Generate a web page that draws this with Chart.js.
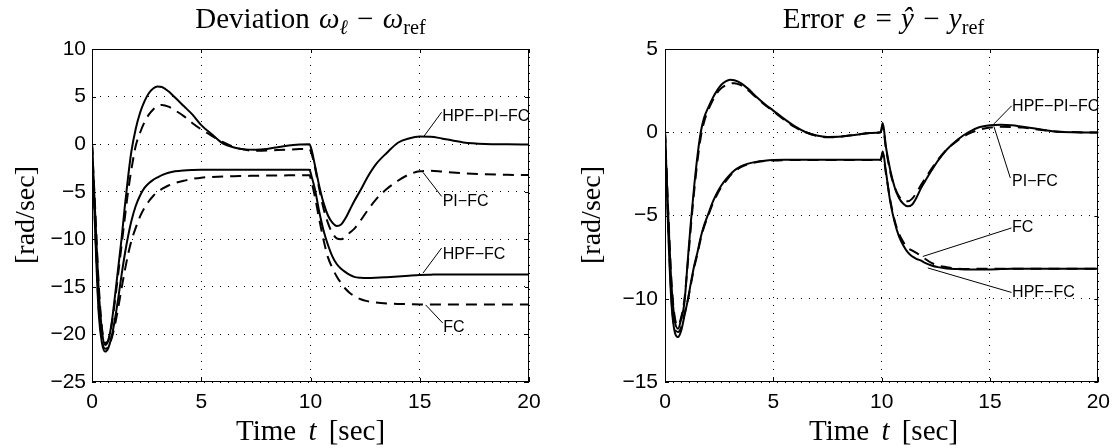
<!DOCTYPE html>
<html>
<head>
<meta charset="utf-8">
<script src="https://cdn.jsdelivr.net/npm/chart.js@4.4.1/dist/chart.umd.min.js"></script>
<style>
  body { margin: 0; background: #fff; }
  #wrap { position: relative; width: 1118px; height: 448px; overflow: hidden; background: #fff; }
  canvas { position: absolute; top: 0; }
  .serif { position: absolute; font-family: "Liberation Serif", "Times New Roman", serif; font-size: 29px; line-height: 28px; color: #000; white-space: nowrap; text-align: center; }
  .serif sub { font-size: 0.7em; line-height: 0; vertical-align: -0.3em; }
  .ttl { word-spacing: 2px; }
  .xl { word-spacing: 5px; }
  .yl { width: 200px; height: 28px; font-size: 28px; transform: rotate(-90deg); }
</style>
</head>
<body>
<div id="wrap">
  <canvas id="devChart" width="560" height="448" style="left:0"></canvas>
  <canvas id="errChart" width="558" height="448" style="left:560px"></canvas>

  <div class="serif ttl" style="left:92px; width:437px; top:4px">Deviation <i>ω</i><sub><i>ℓ</i></sub> − <i>ω</i><sub>ref</sub></div>
  <div class="serif ttl" style="left:665px; width:437px; top:4px">Error <i>e</i> = <i>ŷ</i> − <i>y</i><sub>ref</sub></div>
  <div class="serif xl" style="left:92px; width:437px; top:416px">Time <i>t</i> [sec]</div>
  <div class="serif xl" style="left:665px; width:437px; top:416px">Time <i>t</i> [sec]</div>
  <div class="serif yl" style="left:-75px; top:201px">[rad/sec]</div>
  <div class="serif yl" style="left:491px; top:201px">[rad/sec]</div>
</div>

<script>
// time samples [sec], shared by all curves
var time = [0, 0.15, 0.3, 0.45, 0.6, 0.75, 0.9, 1.05, 1.2, 1.35,
  1.5, 1.65, 1.8, 2.0, 2.2, 2.4, 2.6, 2.8, 3.0, 3.2,
  3.5, 3.8, 4.2, 4.6, 5.0, 5.5, 6.0, 6.5, 7.0, 7.5,
  8.0, 8.5, 9.0, 9.5, 9.95, 10.05, 10.2, 10.4, 10.6, 10.8,
  11.0, 11.2, 11.4, 11.6, 11.8, 12.0, 12.3, 12.6, 13.0, 13.5,
  14.0, 14.5, 15.0, 15.5, 16.0, 16.5, 17.0, 18.0, 19.0, 20.0];

// left plot: deviation w_l - w_ref
var devHpfPiFc = [0, -7.5, -15, -19.5, -21.1, -20.6, -18.8, -16.0, -13.0, -10.0,
  -6.6, -3.5, -0.8, 1.6, 3.3, 4.5, 5.35, 5.85, 6.05, 6.0,
  5.55, 4.9, 4.0, 3.1, 2.0, 1.0, 0.05, -0.35, -0.55, -0.58,
  -0.5, -0.32, -0.15, -0.05, 0, -0.6, -2.2, -4.4, -6.2, -7.5,
  -8.25, -8.6, -8.45, -7.8, -6.9, -6.0, -4.8, -3.5, -2.1, -0.9,
  0.15, 0.6, 0.8, 0.78, 0.6, 0.38, 0.18, 0.02, -0.02, -0.05];
var devPiFc = [0, -7, -14.5, -19.2, -20.9, -20.6, -19.0, -16.5, -13.6, -10.7,
  -7.8, -5.0, -2.7, -0.2, 1.2, 2.3, 3.1, 3.65, 4.0, 4.12,
  3.95, 3.55, 2.95, 2.2, 1.55, 0.85, 0.2, -0.3, -0.6, -0.7,
  -0.68, -0.62, -0.57, -0.52, -0.5, -1.0, -2.4, -4.7, -6.8, -8.3,
  -9.35, -9.9, -10.0, -9.75, -9.3, -8.9, -8.0, -7.0, -5.8, -4.7,
  -3.85, -3.2, -2.85, -2.8, -2.88, -2.98, -3.06, -3.17, -3.22, -3.25];
var devHpfFc = [0, -9.5, -17.5, -20.8, -21.8, -21.4, -20.2, -18.4, -16.2, -13.8,
  -11.6, -9.7, -8.1, -6.5, -5.4, -4.6, -4.1, -3.75, -3.5, -3.25,
  -3.0, -2.85, -2.76, -2.72, -2.7, -2.69, -2.68, -2.68, -2.68, -2.68,
  -2.69, -2.7, -2.7, -2.7, -2.7, -3.4, -4.7, -7.1, -9.1, -10.6,
  -11.8, -12.6, -13.1, -13.45, -13.75, -13.95, -14.05, -14.08, -14.05, -13.98,
  -13.9, -13.82, -13.75, -13.72, -13.7, -13.7, -13.7, -13.7, -13.7, -13.7];
var devFc = [0, -9, -17, -20.5, -21.5, -21.3, -20.4, -19.0, -17.2, -15.2,
  -13.3, -11.6, -10.2, -8.8, -7.6, -6.7, -6.0, -5.45, -5.0, -4.7,
  -4.35, -4.08, -3.85, -3.65, -3.52, -3.45, -3.4, -3.37, -3.35, -3.32,
  -3.3, -3.3, -3.28, -3.27, -3.27, -4.0, -5.5, -7.9, -10.1, -11.9,
  -13.0, -13.9, -14.6, -15.2, -15.65, -15.95, -16.3, -16.5, -16.65, -16.75,
  -16.8, -16.82, -16.85, -16.85, -16.85, -16.85, -16.85, -16.85, -16.85, -16.85];

// right plot: error e = yhat - y_ref
var errHpfPiFc = [0, -5, -9.2, -11.3, -11.8, -11.2, -10.2, -7.7, -5.3, -3.2,
  -1.4, 0.0, 0.85, 1.5, 2.05, 2.5, 2.85, 3.05, 3.15, 3.12,
  2.95, 2.65, 2.15, 1.7, 1.3, 0.8, 0.35, 0.0, -0.2, -0.28,
  -0.27, -0.2, -0.12, -0.05, 0.0, 0.55, -0.9, -2.3, -3.3, -3.95,
  -4.3, -4.45, -4.35, -3.95, -3.4, -2.95, -2.3, -1.7, -1.05, -0.45,
  0.0, 0.3, 0.42, 0.45, 0.42, 0.33, 0.24, 0.05, 0.0, -0.02];
var errPiFc = [0, -4.8, -9.0, -11.1, -11.6, -11.1, -10.0, -7.9, -5.6, -3.5,
  -1.7, -0.3, 0.6, 1.35, 1.9, 2.35, 2.65, 2.82, 2.92, 2.95,
  2.83, 2.55, 2.1, 1.65, 1.25, 0.75, 0.3, 0.0, -0.22, -0.3,
  -0.28, -0.2, -0.12, -0.05, 0.0, 0.3, -1.0, -2.4, -3.3, -3.85,
  -4.1, -4.15, -4.0, -3.65, -3.2, -2.8, -2.2, -1.65, -1.05, -0.5,
  -0.1, 0.15, 0.28, 0.33, 0.32, 0.28, 0.2, 0.05, 0.0, -0.02];
var errHpfFc = [0, -6, -10.3, -12.0, -12.3, -11.9, -11.0, -10.1, -9.0, -8.0,
  -7.2, -6.3, -5.6, -4.9, -4.2, -3.65, -3.2, -2.85, -2.55, -2.3,
  -2.05, -1.9, -1.78, -1.71, -1.67, -1.65, -1.65, -1.65, -1.65, -1.65,
  -1.65, -1.65, -1.65, -1.65, -1.65, -1.15, -2.4, -4.2, -5.4, -6.25,
  -6.8, -7.2, -7.45, -7.6, -7.7, -7.85, -8.0, -8.1, -8.18, -8.22,
  -8.25, -8.25, -8.24, -8.22, -8.2, -8.2, -8.2, -8.2, -8.2, -8.2];
var errFc = [0, -5.6, -10.0, -11.8, -12.0, -11.7, -10.9, -10.1, -9.1, -8.1,
  -7.3, -6.4, -5.7, -5.0, -4.3, -3.75, -3.3, -2.95, -2.62, -2.37,
  -2.1, -1.93, -1.8, -1.73, -1.7, -1.68, -1.67, -1.67, -1.67, -1.67,
  -1.67, -1.67, -1.67, -1.67, -1.67, -1.3, -2.5, -4.1, -5.3, -6.1,
  -6.6, -6.95, -7.1, -7.25, -7.4, -7.6, -7.85, -8.0, -8.1, -8.2,
  -8.22, -8.2, -8.2, -8.2, -8.2, -8.2, -8.2, -8.2, -8.2, -8.2];

// axis ticks
var timeTicks = [0, 5, 10, 15, 20];
var devTicks = [-25, -20, -15, -10, -5, 0, 5, 10];
var errTicks = [-15, -10, -5, 0, 5];

// curve labels: text, point on curve, end of leader, text anchor (data units)
var devLabels = [
  {text: 'HPF\u2212PI\u2212FC', from: [15.2, 0.85], to: [16.0, 3.35], at: [16.03, 2.87]},
  {text: 'PI\u2212FC', from: [15.15, -2.97], to: [16.0, -5.49], at: [16.05, -6.08]},
  {text: 'HPF\u2212FC', from: [15.15, -13.55], to: [16.0, -10.92], at: [16.05, -11.62]},
  {text: 'FC', from: [15.27, -16.9], to: [16.05, -18.8], at: [16.08, -19.33]}
];
var errLabels = [
  {text: 'HPF\u2212PI\u2212FC', from: [15.18, 0.5], to: [16.0, 1.59], at: [16.02, 1.55]},
  {text: 'PI\u2212FC', from: [15.18, 0.35], to: [15.94, -2.75], at: [16.02, -2.95]},
  {text: 'FC', from: [11.9, -7.46], to: [15.99, -5.75], at: [16.02, -5.75]},
  {text: 'HPF\u2212FC', from: [12.13, -8.15], to: [15.99, -9.62], at: [16.02, -9.62]}
];

function pts(vals) {
  return vals.map(function (v, i) { return {x: time[i], y: v}; });
}

function line(label, vals, dashed) {
  return {
    label: label,
    data: pts(vals),
    borderColor: '#000',
    borderWidth: 2,
    borderDash: dashed ? [11, 7] : [],
    pointRadius: 0,
    fill: false,
    cubicInterpolationMode: 'monotone'
  };
}

// box round the plot, little inward ticks, and the curve labels with leaders
var framePlugin = {
  id: 'frame',
  afterDatasetsDraw: function (chart, args, opts) {
    var ctx = chart.ctx, a = chart.chartArea;
    var xs = chart.scales.x, ys = chart.scales.y;
    ctx.save();
    ctx.strokeStyle = '#000';
    ctx.lineWidth = 1;
    ctx.strokeRect(Math.round(a.left) + 0.5, Math.round(a.top) + 0.5,
      Math.round(a.right - a.left) - 1, Math.round(a.bottom - a.top) - 1);
    ctx.beginPath();
    timeTicks.forEach(function (t) {
      var px = Math.round(xs.getPixelForValue(t)) + 0.5;
      ctx.moveTo(px, a.bottom); ctx.lineTo(px, a.bottom - 4);
      ctx.moveTo(px, a.top); ctx.lineTo(px, a.top + 4);
    });
    opts.yTicks.forEach(function (v) {
      var py = Math.round(ys.getPixelForValue(v)) + 0.5;
      ctx.moveTo(a.left, py); ctx.lineTo(a.left + 4, py);
      ctx.moveTo(a.right, py); ctx.lineTo(a.right - 4, py);
    });
    ctx.stroke();

    ctx.lineWidth = 1;
    ctx.font = '16px "Liberation Sans", Arial, sans-serif';
    ctx.fillStyle = '#000';
    ctx.textAlign = 'left';
    ctx.textBaseline = 'middle';
    opts.labels.forEach(function (l) {
      ctx.beginPath();
      ctx.moveTo(xs.getPixelForValue(l.from[0]), ys.getPixelForValue(l.from[1]));
      ctx.lineTo(xs.getPixelForValue(l.to[0]), ys.getPixelForValue(l.to[1]));
      ctx.stroke();
      ctx.fillText(l.text, xs.getPixelForValue(l.at[0]), ys.getPixelForValue(l.at[1]));
    });
    ctx.restore();
  }
};

function makeChart(id, sets, yTicks, labels, yWidth, padRight, tickPad) {
  var tickFont = {family: '"Liberation Sans", Arial, sans-serif', size: 21};
  var fmt = function (v) { return String(v).replace('-', '\u2212'); };
  return new Chart(document.getElementById(id), {
    type: 'line',
    data: {datasets: sets},
    options: {
      responsive: false,
      animation: false,
      devicePixelRatio: 1,
      layout: {padding: {left: 0, right: padRight, top: 49, bottom: 0}},
      plugins: {
        legend: {display: false},
        tooltip: {enabled: false},
        frame: {labels: labels, yTicks: yTicks}
      },
      scales: {
        x: {
          type: 'linear',
          min: timeTicks[0], max: timeTicks[timeTicks.length - 1],
          afterBuildTicks: function (s) { s.ticks = timeTicks.map(function (v) { return {value: v}; }); },
          afterFit: function (s) { s.height = 66; },
          ticks: {font: tickFont, color: '#000', padding: 8, maxRotation: 0, autoSkip: false, callback: fmt},
          grid: {color: '#000', lineWidth: 1, drawTicks: false},
          border: {display: false, dash: [1, 7]}
        },
        y: {
          type: 'linear',
          min: yTicks[0], max: yTicks[yTicks.length - 1],
          afterBuildTicks: function (s) { s.ticks = yTicks.map(function (v) { return {value: v}; }); },
          afterFit: function (s) { s.width = yWidth; },
          ticks: {font: tickFont, color: '#000', padding: tickPad, autoSkip: false, callback: fmt},
          grid: {color: '#000', lineWidth: 1, drawTicks: false},
          border: {display: false, dash: [1, 7]}
        }
      }
    },
    plugins: [framePlugin]
  });
}

makeChart('devChart', [
  line('HPF-PI-FC', devHpfPiFc, false),
  line('PI-FC', devPiFc, true),
  line('HPF-FC', devHpfFc, false),
  line('FC', devFc, true)
], devTicks, devLabels, 92, 31, 6);

makeChart('errChart', [
  line('HPF-PI-FC', errHpfPiFc, false),
  line('PI-FC', errPiFc, true),
  line('HPF-FC', errHpfFc, false),
  line('FC', errFc, true)
], errTicks, errLabels, 105, 16, 7);
</script>
</body>
</html>
